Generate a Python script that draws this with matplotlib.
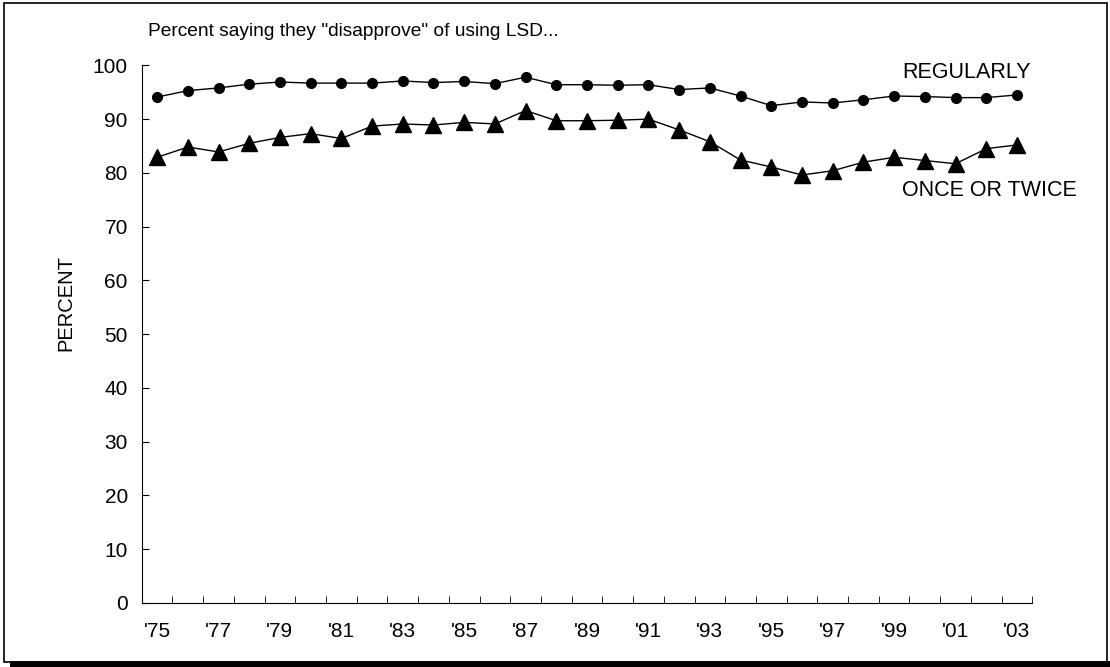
import numpy as np
import matplotlib.pyplot as plt
from matplotlib.patches import Rectangle

plt.rcParams['font.family'] = ['Liberation Sans', 'DejaVu Sans']

years = list(range(1975, 2004))
tick_labels = ["'%02d" % (y % 100) if y % 2 == 1 else '' for y in years]

regularly = [94.1, 95.3, 95.8, 96.5, 96.9, 96.7, 96.7, 96.7, 97.1, 96.8,
             97.0, 96.6, 97.8, 96.4, 96.4, 96.3, 96.4, 95.5, 95.8, 94.3,
             92.5, 93.2, 93.0, 93.6, 94.3, 94.2, 94.0, 94.0, 94.5]
once_twice = [82.9, 84.8, 83.9, 85.5, 86.6, 87.3, 86.4, 88.7, 89.1, 88.9,
              89.4, 89.1, 91.6, 89.7, 89.7, 89.8, 90.0, 88.0, 85.8, 82.4,
              81.1, 79.6, 80.4, 82.0, 82.9, 82.3, 81.7, 84.5, 85.2]

fig = plt.figure(figsize=(11.1, 6.67), dpi=100)
ax = fig.add_axes([0.1277, 0.096, 0.8023, 0.806])

x = np.arange(len(years))
ax.plot(x, regularly, color='black', lw=1, marker='o', ms=7)
ax.plot(x, once_twice, color='black', lw=1, marker='^', ms=11)

ax.set_xlim(-0.5, len(years) - 0.5)
ax.set_ylim(0, 100)
ax.set_yticks(range(0, 101, 10))
ax.set_xticks(x)
ax.set_xticklabels(tick_labels)
ax.set_xticks(np.arange(-0.5, len(years), 1), minor=True)
ax.tick_params(axis='x', which='major', length=0, pad=14, labelsize=15)
ax.tick_params(axis='x', which='minor', direction='in', length=5)
ax.tick_params(axis='y', direction='in', length=5, pad=10, labelsize=15)
ax.spines['top'].set_visible(False)
ax.spines['right'].set_visible(False)
fig.text(66 / 1110, 1 - 303 / 667, 'PERCENT', rotation=90, ha='center', va='center',
         fontsize=14.5)

ax.text(902 / 1110, 1 - 72 / 667, 'REGULARLY', transform=fig.transFigure,
        ha='left', va='center', fontsize=15.5)
ax.text(902 / 1110, 1 - 190 / 667, 'ONCE OR TWICE', transform=fig.transFigure,
        ha='left', va='center', fontsize=15.5)
fig.text(0.133, 0.953, 'Percent saying they "disapprove" of using LSD...',
         ha='left', va='center', fontsize=13.8)

# frame with shadow
fig.patches.append(Rectangle((0.009, 0.0), 0.991, 0.009, transform=fig.transFigure,
                             facecolor='black', edgecolor='none'))
fig.patches.append(Rectangle((0.004, 0.008), 0.993, 0.987, transform=fig.transFigure,
                             facecolor='none', edgecolor='black', lw=1.2))

fig.savefig('out.png', dpi=100)
